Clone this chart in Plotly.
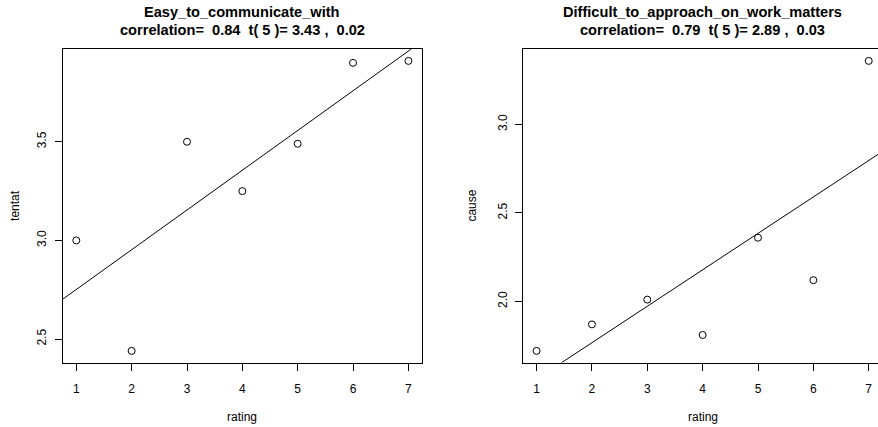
import numpy as np
import plotly.graph_objects as go

# ---- data ----
rating = [1, 2, 3, 4, 5, 6, 7]
tentat = [3.00, 2.44, 3.50, 3.25, 3.49, 3.90, 3.91]
cause = [1.72, 1.87, 2.01, 1.81, 2.36, 2.12, 3.36]

title_left = ["Easy_to_communicate_with", "correlation=  0.84  t( 5 )= 3.43 ,  0.02"]
title_right = ["Difficult_to_approach_on_work_matters", "correlation=  0.79  t( 5 )= 2.89 ,  0.03"]
x_ticks = [1, 2, 3, 4, 5, 6, 7]
y_ticks_left = [2.5, 3.0, 3.5]
y_ticks_right = [2.0, 2.5, 3.0]

W, H = 878, 427
FONT = "Liberation Sans, Arial, Helvetica, sans-serif"

fig = go.Figure()

def add_panel(x, y, xa, ya, xr):
    fig.add_trace(go.Scatter(x=x, y=y, mode="markers", xaxis=xa, yaxis=ya,
                             marker=dict(symbol="circle-open", size=7, color="black",
                                         line=dict(width=1, color="black")),
                             showlegend=False, hoverinfo="x+y"))
    b, a = np.polyfit(x, y, 1)
    lx = np.array([xr[0] - 1, xr[1] + 1])
    fig.add_trace(go.Scatter(x=lx, y=a + b * lx, mode="lines", xaxis=xa, yaxis=ya,
                             line=dict(color="black", width=1),
                             showlegend=False, hoverinfo="skip"))

def rng(v):
    lo, hi = min(v), max(v)
    d = (hi - lo) * 0.04
    return [lo - d, hi + d]

xr = rng(rating)
add_panel(rating, tentat, "x", "y", xr)
add_panel(rating, cause, "x2", "y2", xr)

ydom = [(H - 362.5) / H, (H - 49.3) / H]
common_x = dict(tickmode="array", tickvals=x_ticks, ticks="outside", ticklen=7,
                tickcolor="black", showline=True, linecolor="black", linewidth=1,
                showgrid=False, zeroline=False,
                tickfont=dict(family=FONT, size=12, color="black"),
                ticklabelstandoff=8)
common_y = dict(tickmode="array", ticks="outside", ticklen=7, tickangle=-90,
                tickcolor="black", showline=True, linecolor="black", linewidth=1,
                showgrid=False, zeroline=False,
                tickfont=dict(family=FONT, size=12, color="black"),
                ticklabelstandoff=4)

px_per_unit = (421.7 - 63) / (xr[1] - xr[0])
right_hi = xr[0] + (W - 523.3) / px_per_unit

fig.update_layout(
    width=W, height=H, margin=dict(l=0, r=0, t=0, b=0),
    paper_bgcolor="white", plot_bgcolor="white",
    xaxis=dict(domain=[63 / W, 421.7 / W], range=xr, anchor="y", mirror=True, **common_x),
    yaxis=dict(domain=ydom, range=rng(tentat), anchor="x", mirror=True,
               tickvals=y_ticks_left, ticktext=[f"{v:.1f}" for v in y_ticks_left], **common_y),
    xaxis2=dict(domain=[523.3 / W, 1.0], range=[xr[0], right_hi], anchor="y2", mirror=True, **common_x),
    yaxis2=dict(domain=ydom, range=rng(cause), anchor="x2", mirror=False,
                tickvals=y_ticks_right, ticktext=[f"{v:.1f}" for v in y_ticks_right], **common_y),
)

ann = []
def text(x, y, s, size=12, bold=False, angle=0):
    ann.append(dict(x=x / W, y=1 - y / H, xref="paper", yref="paper", text=(f"<b>{s}</b>" if bold else s),
                    showarrow=False, xanchor="center", yanchor="middle", textangle=angle,
                    font=dict(family=FONT, size=size, color="black")))

lc = (63 + 421.7) / 2
rc = (523.3 + 881.7) / 2
text(lc, 12, title_left[0], 14.6, True)
text(lc, 30.5, title_left[1], 14.6, True)
text(rc, 12, title_right[0], 14.6, True)
text(rc, 30.5, title_right[1], 14.6, True)
text(lc, 416.5, "rating")
text(rc, 416.5, "rating")
text(15, (49.3 + 362.5) / 2, "tentat", angle=-90)
text(471.7, (49.3 + 362.5) / 2, "cause", angle=-90)
fig.update_layout(annotations=ann)

fig.write_html("out.html", config={"displayModeBar": False},
               post_script="document.body.style.margin='0';document.body.style.overflow='hidden';")
